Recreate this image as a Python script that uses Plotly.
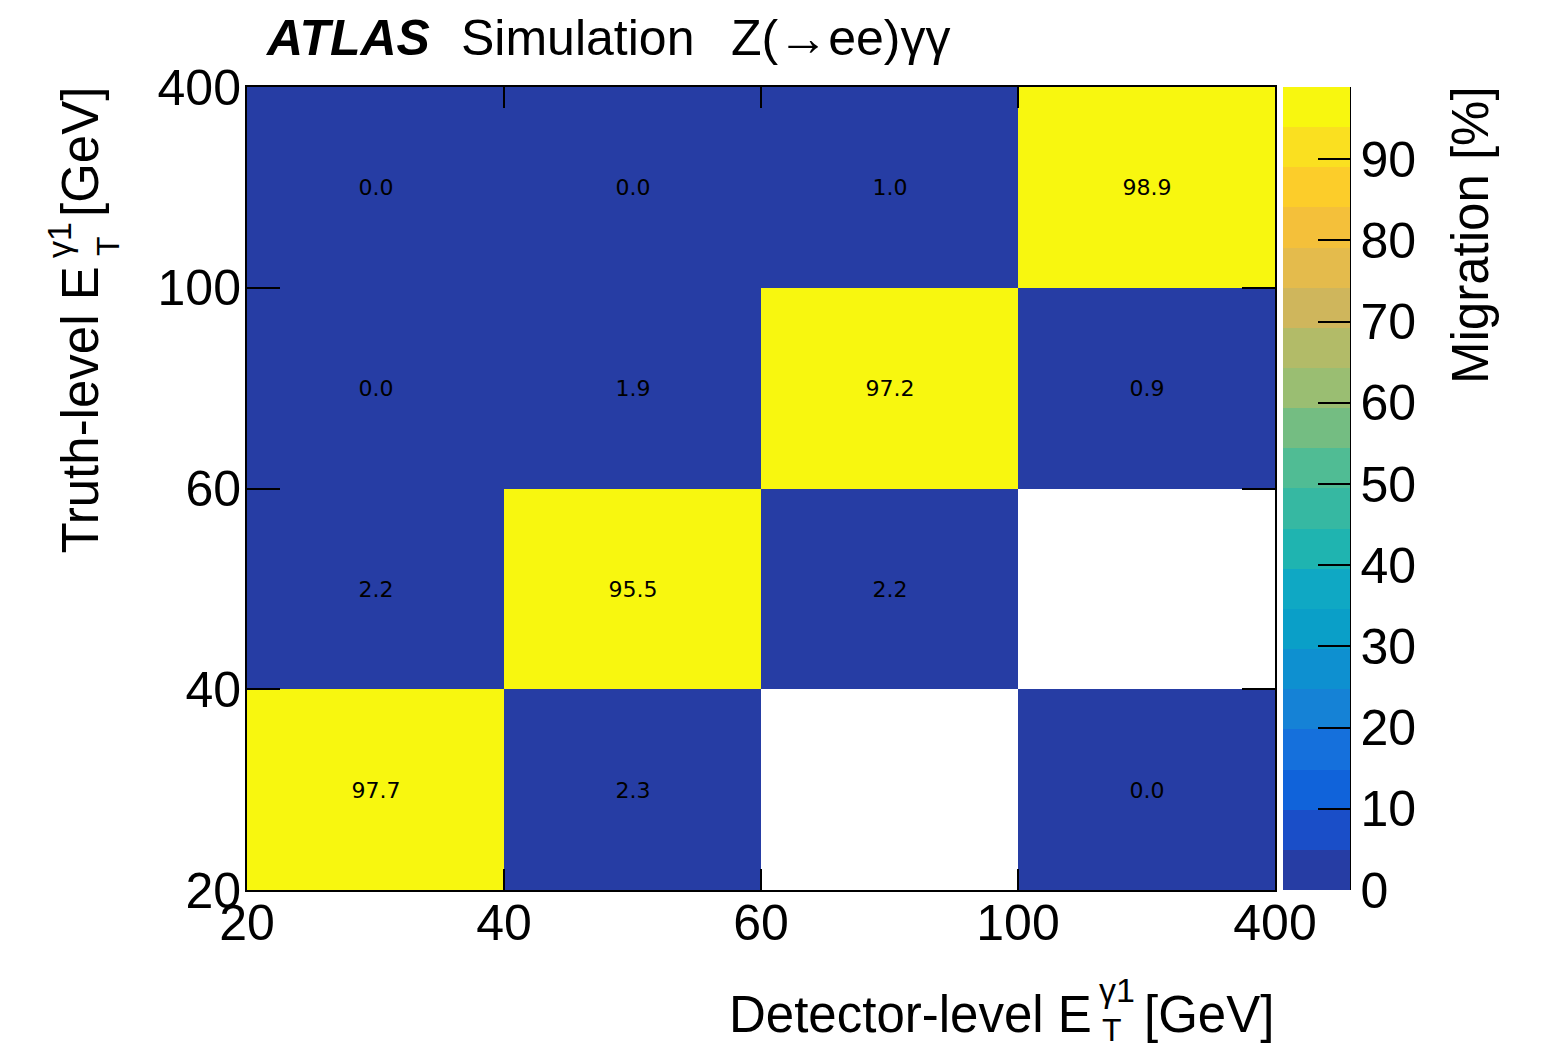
import plotly.graph_objects as go

# ---------------- data ----------------
bin_edges = ["20", "40", "60", "100", "400"]          # both axes, GeV
detector_bins = [0.5, 1.5, 2.5, 3.5]                  # bin centres (index space)
truth_bins = [0.5, 1.5, 2.5, 3.5]
# rows = truth-level bins (20-40, 40-60, 60-100, 100-400), cols = detector-level bins
row_20_40 = [97.7, 2.3, None, 0.0]
row_40_60 = [2.2, 95.5, 2.2, None]
row_60_100 = [0.0, 1.9, 97.2, 0.9]
row_100_400 = [0.0, 0.0, 1.0, 98.9]
migration = [row_20_40, row_40_60, row_60_100, row_100_400]
cbar_ticks = [0, 10, 20, 30, 40, 50, 60, 70, 80, 90]

# 20-level palette
palette = ["#263da4", "#1a4ec8", "#1063da", "#1570dc", "#1582d6",
           "#0e90d0", "#0a9fc8", "#0fa8c4", "#1fb4b0", "#36b8a2",
           "#50bc94", "#74bd82", "#9abe72", "#b2bb68", "#cfb65c",
           "#e4bb4c", "#f4c03a", "#fccd2a", "#fae020", "#f8f70f"]

colorscale = []
n = len(palette)
for i, c in enumerate(palette):
    colorscale.append([i / n, c])
    colorscale.append([(i + 1) / n, c])

zmax = max(v for row in migration for v in row if v is not None)
text = [["" if v is None else f"{v:.1f}" for v in row] for row in migration]

# ---------------- layout geometry ----------------
W, H = 1542, 1049
L, R, T, B = 247, 1275, 87, 890
PW, PH = R - L, B - T


def px(x):
    return (x - L) / PW


def py(y):
    return (B - y) / PH


FONT = "Liberation Sans, Arial, Helvetica, sans-serif"
FS = 50

fig = go.Figure()
fig.add_trace(go.Heatmap(
    x=detector_bins, y=truth_bins, z=migration,
    zmin=0, zmax=zmax, colorscale=colorscale,
    text=text, texttemplate="%{text}",
    textfont=dict(family="DejaVu Sans", size=22, color="black"),
    hoverongaps=False,
    colorbar=dict(
        x=px(1283), xanchor="left", xref="paper", xpad=0,
        y=0.5, yanchor="middle", len=1, lenmode="fraction", ypad=0,
        thickness=67, thicknessmode="pixels",
        outlinewidth=0,
        tickmode="array", tickvals=cbar_ticks,
        ticks="inside", ticklen=32, tickwidth=2, tickcolor="black",
        tickfont=dict(family=FONT, size=FS, color="black"),
    ),
))

axis_common = dict(
    showline=True, linecolor="black", linewidth=2, mirror="ticks",
    ticks="inside", tickwidth=2, tickcolor="black",
    showgrid=False, zeroline=False,
    tickfont=dict(family=FONT, size=FS, color="black"),
    tickmode="array", tickvals=[0, 1, 2, 3, 4], ticktext=bin_edges,
    range=[0, 4], fixedrange=True,
)

fig.update_layout(
    width=W, height=H,
    margin=dict(l=L, r=W - R, t=T, b=H - B, pad=0),
    paper_bgcolor="white", plot_bgcolor="white",
    xaxis=dict(axis_common, ticklen=21, ticklabelstandoff=-12),
    yaxis=dict(axis_common, ticklen=33, ticklabelstandoff=-6),
    showlegend=False,
)

# colorbar right-hand line
fig.add_shape(type="line", xref="paper", yref="paper",
              x0=px(1350), x1=px(1350), y0=0, y1=1,
              line=dict(color="black", width=2))

ann = []


def add(txt, x, y, xa, ya, size=FS, angle=0, family=FONT):
    ann.append(dict(text=txt, x=px(x), y=py(y), xref="paper", yref="paper",
                    xanchor=xa, yanchor=ya, showarrow=False, textangle=angle,
                    font=dict(family=family, size=size, color="black")))


# top labels
add("<b><i>ATLAS</i></b>", 263, 38, "left", "middle")
add("Simulation", 459, 38, "left", "middle")
add("Z(→ee)γγ", 729, 38, "left", "middle")

# x-axis title
add("Detector-level E", 1094, 1014, "right", "middle", size=51)
add("γ1", 1097, 990, "left", "middle", size=34)
add("T", 1100, 1030, "left", "middle", size=32)
add("[GeV]", 1276, 1014, "right", "middle", size=51)

# y-axis title (rotated)
add("Truth-level E", 80, 556, "center", "bottom", size=51, angle=-90)
add("γ1", 59, 260, "center", "bottom", size=34, angle=-90)
add("T", 108, 258, "center", "bottom", size=32, angle=-90)
add("[GeV]", 80, 85, "center", "top", size=51, angle=-90)

# colorbar title
add("Migration [%]", 1470, 84, "center", "top", size=51, angle=-90)

fig.update_layout(annotations=ann)

fig.write_html("out.html")
